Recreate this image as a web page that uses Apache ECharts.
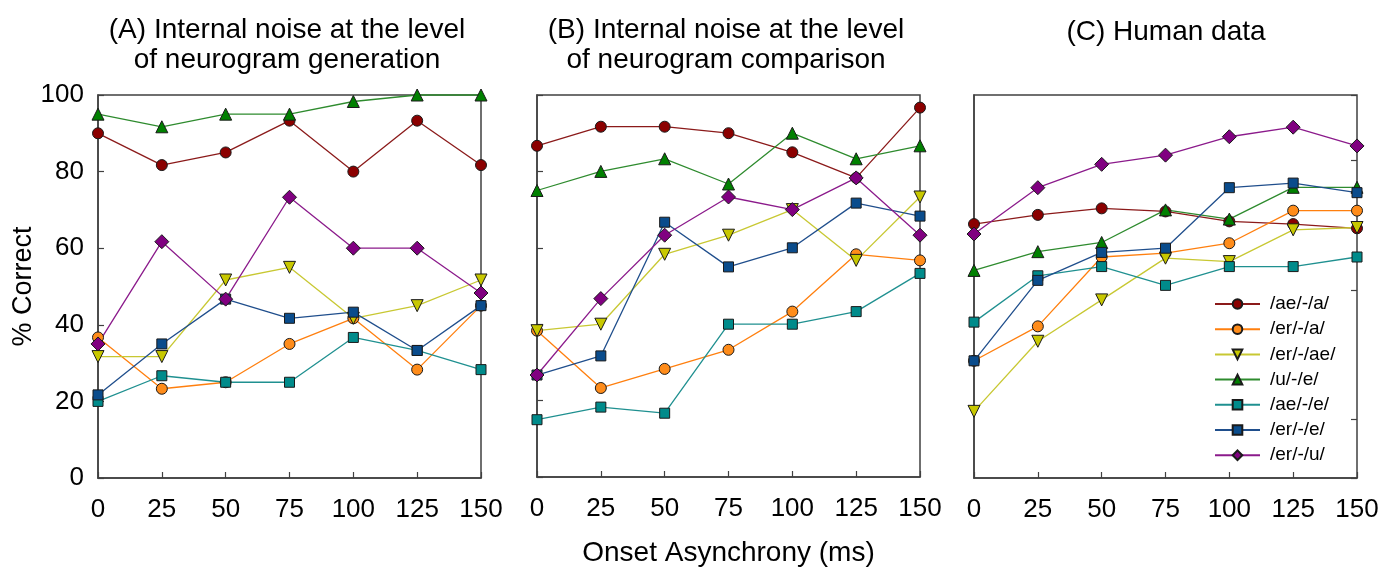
<!DOCTYPE html>
<html>
<head>
<meta charset="utf-8">
<script src="https://cdn.jsdelivr.net/npm/echarts@6/dist/echarts.min.js"></script>
<style>
  html, body { margin: 0; padding: 0; background: #fff; }
  #main { width: 1391px; height: 572px; }
</style>
</head>
<body>
<div id="main"></div>
<script>
// onset asynchrony (ms) and the seven vowel pairs
var asyncs = [0, 25, 50, 75, 100, 125, 150];
var pairs = ['/ae/-/a/', '/er/-/a/', '/er/-/ae/', '/u/-/e/', '/ae/-/e/', '/er/-/e/', '/er/-/u/'];

// (A) noise at neurogram generation
var genAeA  = [90, 81.7, 85, 93.3, 80, 93.3, 81.7];
var genErA  = [36.7, 23.3, 25, 35, 41.7, 28.3, 45];
var genErAe = [31.7, 31.7, 51.7, 55, 41.7, 45, 51.7];
var genUE   = [95, 91.7, 95, 95, 98.3, 100, 100];
var genAeE  = [20, 26.7, 25, 25, 36.7, 33.3, 28.3];
var genErE  = [21.7, 35, 46.7, 41.7, 43.3, 33.3, 45];
var genErU  = [35, 61.7, 46.7, 73.3, 60, 60, 48.3];

// (B) noise at neurogram comparison
var cmpAeA  = [86.7, 91.7, 91.7, 90, 85, 78.3, 96.7];
var cmpErA  = [38.3, 23.3, 28.3, 33.3, 43.3, 58.3, 56.7];
var cmpErAe = [38.3, 40, 58.3, 63.3, 70, 56.7, 73.3];
var cmpUE   = [75, 80, 83.3, 76.7, 90, 83.3, 86.7];
var cmpAeE  = [15, 18.3, 16.7, 40, 40, 43.3, 53.3];
var cmpErE  = [26.7, 31.7, 66.7, 55, 60, 71.7, 68.3];
var cmpErU  = [26.7, 46.7, 63.3, 73.3, 70, 78.3, 63.3];

// (C) human listeners
var humAeA  = [66.3, 68.7, 70.4, 69.6, 67, 66.3, 65.2];
var humErA  = [30.6, 39.6, 57.7, 58.7, 61.3, 69.8, 69.8];
var humErAe = [17.4, 35.7, 46.5, 57.4, 56.5, 64.8, 65.4];
var humUE   = [54.2, 59.1, 61.5, 70, 67.6, 75.9, 75.9];
var humAeE  = [40.7, 52.8, 55.2, 50.3, 55.2, 55.2, 57.7];
var humErE  = [30.6, 51.6, 58.9, 60, 75.8, 77, 74.5];
var humErU  = [63.7, 75.8, 81.9, 84.3, 89.1, 91.6, 86.7];

var panels = [
  [genAeA, genErA, genErAe, genUE, genAeE, genErE, genErU],
  [cmpAeA, cmpErA, cmpErAe, cmpUE, cmpAeE, cmpErE, cmpErU],
  [humAeA, humErA, humErAe, humUE, humAeE, humErE, humErU]
];

// marker look per pair
var looks = [
  {color: '#8b0000', line: '#8b1a1a', symbol: 'circle', size: 11, rot: 0},
  {color: '#ff8c1a', line: '#ff7f0e', symbol: 'circle', size: 11, rot: 0},
  {color: '#c8c800', line: '#c8c832', symbol: 'triangle', size: 12, rot: 180},
  {color: '#008000', line: '#2e8b2e', symbol: 'triangle', size: 12, rot: 0},
  {color: '#008b8b', line: '#1f9090', symbol: 'rect', size: 10, rot: 0},
  {color: '#0a4c8c', line: '#1f4e8c', symbol: 'rect', size: 10, rot: 0},
  {color: '#800080', line: '#8b1a8b', symbol: 'diamond', size: 14, rot: 0}
];

var FONT = '"Liberation Sans", Arial, sans-serif';
var gridLefts = [98, 537, 974];

var myChart = echarts.init(document.getElementById('main'), null, {renderer: 'canvas'});

var grids = gridLefts.map(function(l){
  return {left: l, top: 95, width: 383, height: 383, show: true,
          borderColor: '#404040', borderWidth: 1.5, backgroundColor: 'transparent'};
});

var xAxes = gridLefts.map(function(l, i){
  return {
    type: 'value', gridIndex: i, min: 0, max: 150, interval: 25,
    name: i == 1 ? 'Onset Asynchrony (ms)' : '',
    nameLocation: 'middle', nameGap: 62,
    nameTextStyle: {fontSize: 28, color: '#000', fontFamily: FONT},
    axisLine: {lineStyle: {color: '#404040', width: 1.5}},
    axisTick: {inside: true, length: 6, lineStyle: {color: '#404040', width: 1.2}},
    axisLabel: {fontSize: 26, color: '#000', fontFamily: FONT, margin: 19},
    splitLine: {show: false}
  };
});

var yAxes = gridLefts.map(function(l, i){
  return {
    type: 'value', gridIndex: i, min: 0, max: 100, interval: 20,
    name: i == 0 ? '% Correct' : '',
    nameLocation: 'middle', nameGap: 60, nameRotate: 90,
    nameTextStyle: {fontSize: 27, color: '#000', fontFamily: FONT},
    axisLine: {show: true, lineStyle: {color: '#404040', width: 1.5}},
    axisTick: {show: i < 2, inside: true, length: 6, lineStyle: {color: '#404040', width: 1.2}},
    axisLabel: {show: i == 0, fontSize: 26, color: '#000', fontFamily: FONT, margin: 14},
    splitLine: {show: false}
  };
});
// the human panel has its own tick marks (different scale, no labels)
yAxes.push({
  type: 'value', gridIndex: 2, min: -0.4485, max: 2.5, splitNumber: 3,
  axisLine: {show: false},
  axisTick: {show: true, inside: true, length: 6, lineStyle: {color: '#404040', width: 1.2}},
  axisLabel: {show: false},
  splitLine: {show: false}
});

var series = [];
panels.forEach(function(panel, p){
  panel.forEach(function(vals, k){
    var lk = looks[k];
    series.push({
      name: pairs[k], type: 'line', xAxisIndex: p, yAxisIndex: p,
      data: asyncs.map(function(x, j){ return [x, vals[j]]; }),
      symbol: lk.symbol, symbolSize: lk.size, symbolRotate: lk.rot,
      clip: false, animation: false,
      lineStyle: {color: lk.line, width: 1.3},
      itemStyle: {color: lk.color, borderColor: '#1a1a1a', borderWidth: 1},
      emphasis: {disabled: true}
    });
  });
});

var titleStyle = {fontSize: 28, fontWeight: 'normal', color: '#000', fontFamily: FONT, lineHeight: 30};

var option = {
  backgroundColor: '#fff',
  animation: false,
  title: [
    {text: '(A) Internal noise at the level\nof neurogram generation', left: 287, top: 15, padding: 0, textAlign: 'center', textStyle: titleStyle},
    {text: '(B) Internal noise at the level\nof neurogram comparison', left: 726, top: 15, padding: 0, textAlign: 'center', textStyle: titleStyle},
    {text: '(C) Human data', left: 1166, top: 17, padding: 0, textAlign: 'center', textStyle: titleStyle}
  ],
  legend: {
    data: pairs, orient: 'vertical', left: 1214, top: 294, padding: 0,
    itemWidth: 45, itemHeight: 12, itemGap: 5.2,
    textStyle: {fontSize: 19, color: '#000', fontFamily: FONT, lineHeight: 20, padding: [0, 0, 0, 5]},
    selectedMode: false
  },
  grid: grids,
  xAxis: xAxes,
  yAxis: yAxes,
  series: series
};

myChart.setOption(option);
</script>
</body>
</html>
